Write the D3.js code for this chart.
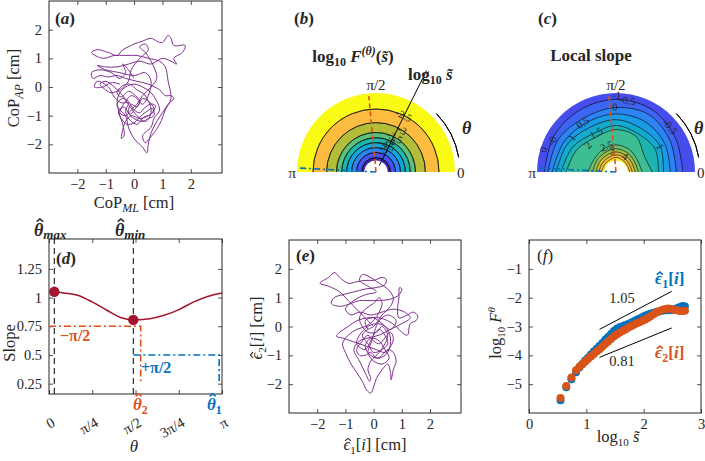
<!DOCTYPE html>
<html><head><meta charset="utf-8">
<script src="https://cdn.jsdelivr.net/npm/d3@7"></script>
<style>
body{margin:0;background:#fff}
svg{display:block}
text{font-family:'Liberation Serif','DejaVu Serif',serif;fill:#262626}
</style></head>
<body><svg id="c" width="705" height="461"></svg>
<script>
// ---------------- DATA ----------------
// (a) CoP trajectory [ML, AP] in cm
const trajA = [[0.0,0.3],[-0.2,0.6],[-0.4,0.8],[-0.3,0.5],[-0.5,0.3],[-0.8,0.5],[-1.2,0.6],[-1.5,0.5],[-1.45,0.3],[-1.2,0.4],[-0.9,0.35],[-0.6,0.4],[-0.3,0.3],[0.1,0.2],[0.5,0.1],[0.9,-0.1],[1.1,-0.3],[1.3,-0.3],[1.4,-0.4],[1.2,-0.6],[1.0,-0.9],[0.8,-1.2],[0.6,-1.6],[0.5,-2.0],[0.45,-2.3],[0.3,-2.1],[0.0,-1.8],[-0.2,-1.4],[-0.3,-1.0],[-0.5,-0.8],[-0.6,-0.6],[-0.4,-0.4],[-0.2,-0.5],[0.0,-0.8],[0.2,-0.9],[0.4,-0.7],[0.6,-0.6],[0.7,-0.8],[0.5,-1.0],[0.2,-1.1],[-0.1,-1.0],[-0.3,-1.2],[-0.4,-1.5],[-0.45,-1.8],[-0.35,-1.7],[-0.4,-1.3],[-0.5,-1.0],[-0.6,-0.5],[-0.5,-0.2],[-0.3,0.0],[0.0,0.1],[0.3,0.0],[0.6,-0.2],[0.8,-0.5],[0.9,-0.8],[0.7,-1.1],[0.6,-1.4],[0.3,-1.7],[0.4,-1.95],[0.5,-1.85],[0.9,-1.3],[1.1,-0.8],[1.3,-0.4],[1.2,0.2],[1.1,0.7],[0.9,0.9],[0.5,1.0],[0.1,1.1],[-0.3,1.1],[-0.7,1.1],[-1.1,1.0],[-1.5,1.2],[-1.3,1.3],[-0.9,1.2],[-0.6,1.1],[-0.4,1.3],[-0.2,1.4],[0.0,1.5],[0.3,1.6],[0.6,1.7],[0.8,1.6],[1.0,1.55],[1.2,1.8],[1.3,1.7],[1.4,1.45],[1.8,1.45],[1.7,1.2],[1.4,1.0],[1.5,0.8],[1.3,0.9],[1.0,1.0],[0.6,0.8],[0.2,0.9],[-0.2,0.8],[-0.6,0.7],[-1.0,0.7],[-1.3,0.75],[-1.0,0.6],[-0.5,0.5],[0.0,0.4],[0.4,0.5],[0.6,0.2],[0.5,-0.3],[0.3,-0.6],[0.1,-0.4],[-0.1,-0.3],[-0.3,-0.5],[-0.5,-0.9],[-0.3,-1.0],[-0.1,-0.8],[0.1,-0.6],[0.3,-0.3],[0.6,0.0],[0.8,0.3],[0.7,0.7],[0.4,1.2],[0.2,1.4],[0.4,1.5],[0.5,1.3],[0.2,1.0],[-0.1,0.6],[-0.2,0.2],[-0.5,-0.1],[-0.8,-0.2],[-1.0,-0.1],[-1.2,0.1],[-1.0,0.2],[-0.7,0.0],[-0.4,-0.3],[-0.2,-0.6],[0.1,-1.0],[0.4,-1.2],[0.6,-0.9],[0.5,-0.5],[0.3,-0.4],[0.1,-0.7],[-0.1,-0.6],[-0.2,-0.9],[0.0,-1.1],[0.3,-1.2],[0.5,-1.1],[0.7,-1.0],[0.65,-0.75],[0.45,-0.85],[0.25,-1.0],[0.0,-1.25],[-0.25,-1.3],[-0.45,-1.1],[-0.55,-0.85],[-0.35,-0.7],[-0.15,-0.95],[0.05,-0.75],[0.2,-0.5],[0.05,-0.3],[-0.2,-0.15],[-0.45,-0.35],[-0.6,-0.2],[-0.4,0.05],[-0.15,0.1],[0.1,-0.1],[0.35,-0.25],[0.55,-0.55],[0.75,-0.65],[0.6,-0.95],[0.35,-1.05],[0.1,-1.3],[-0.15,-1.15],[-0.3,-0.85],[-0.2,-0.55],[-0.45,-0.55],[-0.7,-0.35],[-0.9,0.0],[-1.3,0.2],[-1.4,0.0],[-1.1,0.0],[-0.8,0.15],[-0.5,0.1]];
// (e) projected trajectory [eps1, eps2] in cm
const trajE = [[0.0,0.0],[-0.3,0.3],[-0.6,0.6],[-0.9,0.9],[-1.2,1.2],[-1.6,1.4],[-1.9,1.5],[-1.6,1.7],[-1.38,1.87],[-1.2,1.7],[-0.9,1.5],[-0.6,1.55],[-0.3,1.6],[0.0,1.6],[0.3,1.7],[0.45,1.64],[0.4,1.45],[0.1,1.35],[-0.3,1.3],[-0.7,1.2],[-1.1,1.1],[-1.4,1.0],[-1.5,0.8],[-1.2,0.7],[-0.8,0.8],[-0.5,0.9],[-0.2,0.9],[0.2,0.9],[0.6,0.95],[0.9,1.1],[1.0,1.3],[0.92,1.35],[0.9,1.0],[0.85,0.6],[0.9,0.3],[1.2,0.4],[1.4,0.5],[1.57,0.36],[1.5,0.2],[1.3,0.1],[1.2,-0.3],[1.0,-0.2],[0.8,0.0],[0.5,0.2],[0.2,0.3],[-0.2,0.3],[-0.6,0.2],[-0.9,0.0],[-1.2,-0.2],[-1.32,-0.34],[-1.1,-0.4],[-0.8,-0.5],[-0.5,-0.6],[-0.2,-0.7],[0.1,-0.8],[0.4,-0.9],[0.6,-0.7],[0.7,-0.4],[0.6,-0.2],[0.4,-0.4],[0.2,-0.6],[0.0,-0.5],[-0.2,-0.3],[-0.4,-0.5],[-0.6,-0.8],[-0.5,-1.0],[-0.3,-1.0],[-0.1,-0.9],[0.1,-1.1],[0.3,-1.0],[0.5,-0.8],[0.7,-0.9],[0.8,-1.2],[0.7,-1.5],[0.62,-1.85],[0.6,-1.6],[0.5,-1.3],[0.3,-1.5],[0.1,-1.8],[0.0,-2.1],[-0.1,-2.31],[-0.25,-2.2],[-0.4,-1.9],[-0.6,-1.6],[-0.8,-1.3],[-1.0,-0.9],[-1.1,-0.6],[-0.9,-0.3],[-0.6,-0.1],[-0.3,0.0],[0.0,0.2],[0.2,0.5],[0.3,0.8],[0.2,1.0],[0.0,0.8],[-0.3,0.6],[-0.5,0.3],[-0.4,0.0],[-0.2,-0.2],[0.1,-0.2],[0.3,0.0],[0.5,-0.3],[0.4,-0.6],[0.2,-0.9],[-0.1,-1.2],[-0.2,-1.5],[-0.1,-1.8],[-0.14,-1.9],[-0.3,-1.6],[-0.5,-1.2],[-0.7,-0.8],[-0.5,-0.5],[-0.2,-0.4],[0.2,-0.3],[0.6,-0.1],[1.0,0.1],[1.3,0.3],[1.1,0.5],[0.7,0.6],[0.3,0.5],[-0.1,0.4],[-0.5,0.5],[-0.8,0.4],[-1.0,0.6],[-0.7,0.9],[-0.3,1.1],[0.1,1.2],[-0.2,1.4],[-0.5,1.6],[-0.4,1.8],[-0.2,1.75],[0.2,1.5],[0.5,1.3],[0.7,1.0],[0.6,0.7],[0.3,0.4],[0.0,0.0],[-0.2,-0.1],[-0.4,-0.3],[-0.2,-0.6],[0.0,-0.9],[0.3,-0.8],[0.5,-0.6],[0.4,-0.3],[0.2,-0.1],[0.0,-0.3],[-0.3,-0.8],[-0.6,-0.6],[-0.5,-0.3],[-0.2,0.0],[0.1,0.1],[0.4,0.0],[0.6,-0.4],[0.5,-0.9],[0.2,-1.1],[-0.1,-1.0],[-0.3,-0.7],[-0.1,-0.4],[0.2,-0.5],[0.4,-0.8],[0.55,-1.1],[0.3,-1.3],[0.0,-1.2],[-0.2,-0.9],[-0.1,-0.6],[0.2,0.2],[0.5,0.4],[0.8,0.2],[0.6,-0.1],[0.3,0.1],[0.0,0.3],[-0.3,0.2],[-0.2,-0.1]];
// (d) slope vs theta
const slopeTheta = [0, 0.26, 0.52, 0.79, 1.05, 1.31, 1.57, 1.83, 2.09, 2.36, 2.62, 2.88, 3.14];
const slopeValue = [1.05, 1.04, 1.02, 0.96, 0.89, 0.825, 0.805, 0.815, 0.845, 0.895, 0.96, 1.01, 1.04];
const thetaMax = 0.096, slopeMax = 1.05;
const thetaMin = 1.531, slopeMin = 0.805;
const theta2 = 1.665, theta2Level = 0.75, theta2Bottom = 0.27;
const theta1 = 3.09, theta1Level = 0.5, theta1Bottom = 0.255;
const dTickValues = [0, Math.PI/4, Math.PI/2, 3*Math.PI/4, Math.PI];
const dTickLabels = ['0', 'π/4', 'π/2', '3π/4', 'π'];
const dYTicks = [0.25, 0.5, 0.75, 1, 1.25];
const dYLabels = ['0.25', '0.5', '0.75', '1', '1.25'];
// (f) fluctuation functions
const fLogS = [0.55,0.65,0.74,0.82,0.88,0.93,0.98,1.03,1.08,1.13,1.18,1.23,1.28,1.33,1.38,1.43,1.48,1.53,1.58,1.63,1.68,1.73,1.78,1.83,1.88,1.93,1.98,2.03,2.08,2.13,2.18,2.23,2.28,2.33,2.38,2.43,2.48,2.53,2.58,2.63,2.68,2.72];
const fEps1 = [-5.56,-5.11,-4.83,-4.59,-4.42,-4.30,-4.18,-4.08,-3.97,-3.87,-3.77,-3.68,-3.57,-3.46,-3.36,-3.26,-3.16,-3.08,-3.03,-2.99,-2.95,-2.91,-2.87,-2.82,-2.77,-2.72,-2.67,-2.62,-2.58,-2.55,-2.52,-2.49,-2.47,-2.45,-2.44,-2.44,-2.43,-2.41,-2.37,-2.32,-2.29,-2.31];
const fEps2 = [-5.48,-5.06,-4.77,-4.52,-4.40,-4.31,-4.22,-4.13,-4.04,-3.95,-3.87,-3.79,-3.70,-3.61,-3.52,-3.43,-3.35,-3.28,-3.22,-3.16,-3.10,-3.04,-2.99,-2.94,-2.89,-2.85,-2.80,-2.76,-2.70,-2.64,-2.57,-2.51,-2.46,-2.42,-2.39,-2.38,-2.39,-2.42,-2.44,-2.46,-2.46,-2.45];
const fitX = [1.23, 2.49];
const fit1Y = [-3.10, -1.78];
const fit2Y = [-4.07, -3.05];
const fitLabels = ['1.05', '0.81'];
// (b) log10 F contour levels (circular) : radius in log10 s
const bLevels = [-2.5, -3, -3.5, -4, -4.5, -5, -5.5, -6];
const bRadii  = [2.17, 1.70, 1.36, 1.18, 1.01, 0.84, 0.67, 0.50];
const bLabelText = ['-2.5', '-3', '-3.5', '-4', '-4.5', '-5'];
const bLabelAng  = [64, 58, 62, 64, 68, 70];
const sMax = 2.72, sMin = 0.40;
// (c) local slope contours: radius (log10 s) at angles
const cLevels = [-0.5, 0, 0.5, 1, 1.5, 2, 2.5, 3, 3.5, 4, 4.5];
const cAngles = [0, 30, 60, 90, 120, 150, 180];
const cRadii = [
  [2.30,2.36,2.48,2.50,2.47,2.47,2.47],
  [2.08,2.15,2.28,2.22,2.16,2.28,2.35],
  [1.87,1.94,2.00,2.00,1.98,2.07,2.20],
  [1.63,1.76,1.73,1.80,1.78,1.93,2.06],
  [1.46,1.56,1.52,1.60,1.53,1.72,1.90],
  [1.25,1.12,1.40,1.46,1.38,1.55,1.72],
  [0.90,0.84,0.90,0.93,0.90,0.87,0.97],
  [0.77,0.73,0.77,0.80,0.77,0.77,0.80],
  [0.66,0.63,0.66,0.69,0.66,0.66,0.69],
  [0.56,0.53,0.56,0.59,0.56,0.56,0.59],
  [0.47,0.45,0.47,0.50,0.47,0.47,0.50]
];
const cOuterValue = -0.9;
const cLabelText = ['-1','-0.5','0','0.5','1','1.5','2','2.5','3','4','0','-0','-0.5','1'];
const cLabelAng  = [89.5, 81, 91, 124, 142, 117, 136, 110, 100, 60, 163, 154, 40, 30];
const cLabelR    = [2.66, 2.50, 2.25, 2.05, 1.92, 1.51, 1.34, 0.95, 0.75, 0.62, 2.62, 2.45, 2.43, 1.75];

// ---------------- STYLE ----------------
const PURPLE='#7E2F8E', BLUE='#0072BD', ORANGE='#D95319', RED='#A2142F', AX='#262626';
const parula = d3.piecewise(d3.interpolateRgb, ['#3E26A8','#4752F4','#2B84F2','#10A6DC','#1FB5AA','#5CC27A','#B4BD38','#FCBC40','#F9FB14']);
const svg = d3.select('#c');

function axes(x, y, xt, yt, xf, yf) {
  const g = svg.append('g');
  const [yb, yTop] = y.range(); const [xl, xr] = x.range();
  g.append('g').attr('class','xb').attr('transform',`translate(0,${yb})`).call(d3.axisBottom(x).tickValues(xt).tickFormat(xf).tickSize(-4).tickPadding(6));
  g.append('g').attr('transform',`translate(0,${yTop})`).call(d3.axisTop(x).tickValues(xt).tickFormat('').tickSize(-4));
  g.append('g').attr('transform',`translate(${xl},0)`).call(d3.axisLeft(y).tickValues(yt).tickFormat(yf).tickSize(-4).tickPadding(7));
  g.append('g').attr('transform',`translate(${xr},0)`).call(d3.axisRight(y).tickValues(yt).tickFormat('').tickSize(-4));
  g.selectAll('.domain').remove();
  g.selectAll('.tick line').attr('stroke',AX).attr('stroke-width',0.8);
  g.selectAll('.tick text').attr('font-family',"'Liberation Serif','DejaVu Serif',serif").attr('font-size',14.5).attr('fill',AX);
  g.append('rect').attr('x',xl).attr('y',yTop).attr('width',xr-xl).attr('height',yb-yTop)
    .attr('fill','none').attr('stroke',AX).attr('stroke-width',1);
  return g;
}
// text with tspans; parts: {t, i (italic), dy, fs, hat:'high'|'low'}
function label(x, y, parts, opt={}) {
  const size = opt.size||16, fill = opt.fill||AX;
  const g = svg.append('g');
  if (opt.rotate) g.attr('transform',`rotate(${opt.rotate},${x},${y})`);
  const t = g.append('text').attr('x',x).attr('y',y).attr('font-size',size)
    .attr('text-anchor',opt.anchor||'start').style('fill',fill);
  if (opt.weight) t.attr('font-weight',opt.weight);
  let idx = 0, dyAcc = 0; const hats = [];
  parts.forEach(p => {
    const s = t.append('tspan').text(p.t);
    if (p.i) s.attr('font-style','italic');
    if (p.dy) { s.attr('dy',p.dy); dyAcc += p.dy; }
    if (p.fs) s.attr('font-size',p.fs);
    if (p.hat) hats.push({idx, base:y+dyAcc, fs:p.fs||size, kind:p.hat});
    idx += p.t.length;
  });
  hats.forEach(h => {
    const e = t.node().getExtentOfChar(h.idx);
    const cx = e.x + e.width/2 + 0.07*h.fs;
    const top = h.kind==='low' ? 0.70 : 0.95, bot = h.kind==='low' ? 0.55 : 0.80;
    g.append('path').attr('d',`M${cx-0.18*h.fs},${h.base-bot*h.fs}L${cx},${h.base-top*h.fs}L${cx+0.18*h.fs},${h.base-bot*h.fs}`)
      .attr('fill','none').attr('stroke',fill).attr('stroke-width',opt.weight?1.5:1.1);
  });
  return t;
}
const line = d3.line().curve(d3.curveCatmullRom.alpha(0.5));

// ---------------- (a) ----------------
{
  const x = d3.scaleLinear().domain([-3,3.1]).range([49,222]);
  const y = d3.scaleLinear().domain([-3,3]).range([173,1]);
  axes(x, y, [-2,-1,0,1,2], [-2,-1,0,1,2], d3.format(''), d3.format(''));
  svg.append('path').attr('d', line(trajA.map(d=>[x(d[0]),y(d[1])])))
    .attr('fill','none').attr('stroke',PURPLE).attr('stroke-width',1);
  label(55,24,[{t:'('},{t:'a',i:1},{t:')'}],{size:17,weight:'bold'});
  label(134,208,[{t:'CoP'},{t:'ML',i:1,dy:4,fs:12},{t:' [cm]',dy:-4}],{size:16.5,anchor:'middle'});
  label(19,88,[{t:'CoP'},{t:'AP',i:1,dy:4,fs:12},{t:' [cm]',dy:-4}],{size:16.5,anchor:'middle',rotate:-90});
}

// ---------------- (e) ----------------
{
  const x = d3.scaleLinear().domain([-3,3.1]).range([289,461]);
  const y = d3.scaleLinear().domain([-3,3]).range([413,240]);
  axes(x, y, [-2,-1,0,1,2], [-2,-1,0,1,2], d3.format(''), d3.format(''));
  svg.append('path').attr('d', line(trajE.map(d=>[x(d[0]),y(d[1])])))
    .attr('fill','none').attr('stroke',PURPLE).attr('stroke-width',1);
  label(296,261,[{t:'('},{t:'e',i:1},{t:')'}],{size:17,weight:'bold'});
  label(375,450,[{t:'ϵ',i:1,hat:'low'},{t:'1',dy:4,fs:11},{t:'[',dy:-4},{t:'i',i:1},{t:'] [cm]'}],{size:16.5,anchor:'middle'});
  label(262,328,[{t:'ϵ',i:1,hat:'low'},{t:'2',dy:4,fs:11},{t:'[',dy:-4},{t:'i',i:1},{t:'] [cm]'}],{size:16.5,anchor:'middle',rotate:-90});
}

// ---------------- (f) ----------------
{
  const x = d3.scaleLinear().domain([0,3]).range([529,701]);
  const y = d3.scaleLinear().domain([-6,0]).range([413,240]);
  axes(x, y, [0,1,2,3], [-5,-4,-3,-2,-1], d3.format(''), d3.format(''));
  const g = svg.append('g');
  g.selectAll('.b').data(fLogS).join('circle').attr('cx',d=>x(d)).attr('cy',(d,i)=>y(fEps1[i])).attr('r',4).attr('fill',BLUE);
  g.selectAll('.o').data(fLogS).join('circle').attr('cx',d=>x(d)).attr('cy',(d,i)=>y(fEps2[i])).attr('r',4).attr('fill',ORANGE);
  [fit1Y, fit2Y].forEach(fy => svg.append('line').attr('x1',x(fitX[0])).attr('x2',x(fitX[1])).attr('y1',y(fy[0])).attr('y2',y(fy[1])).attr('stroke','#000').attr('stroke-width',1));
  label(622,303,[{t:fitLabels[0]}],{size:14.5,anchor:'middle'});
  label(622,366,[{t:fitLabels[1]}],{size:14.5,anchor:'middle'});
  label(655,284,[{t:'ϵ',i:1,hat:'low'},{t:'1',dy:4,fs:12},{t:'[',dy:-4},{t:'i',i:1},{t:']'}],{size:17,weight:'bold',fill:BLUE});
  label(655,358,[{t:'ϵ',i:1,hat:'low'},{t:'2',dy:4,fs:12},{t:'[',dy:-4},{t:'i',i:1},{t:']'}],{size:17,weight:'bold',fill:ORANGE});
  label(537,261,[{t:'('},{t:'f',i:1},{t:')'}],{size:17});
  label(618,442,[{t:'log'},{t:'10',dy:4,fs:11},{t:' s̃',dy:-4,i:1}],{size:16.5,anchor:'middle'});
  label(501,333,[{t:'log'},{t:'10',dy:4,fs:11},{t:' F',dy:-4,i:1},{t:'θ',i:1,dy:-6,fs:11}],{size:16.5,anchor:'middle',rotate:-90});
}

// ---------------- (d) ----------------
{
  const x = d3.scaleLinear().domain([0,Math.PI]).range([49,222]);
  const y = d3.scaleLinear().domain([0.16,1.51]).range([394,239]);
  const g = axes(x, y, dTickValues, dYTicks, (d,i)=>dTickLabels[i], (d,i)=>dYLabels[i]);
  g.select('.xb').selectAll('.tick text').attr('x',4).attr('y',27).attr('dy','0.35em')
    .attr('text-anchor','end').attr('transform','rotate(-30,4,27)');
  [thetaMax, thetaMin].forEach(t => svg.append('line').attr('x1',x(t)).attr('x2',x(t)).attr('y1',y.range()[0]).attr('y2',y.range()[1])
    .attr('stroke','#000').attr('stroke-width',1).attr('stroke-dasharray','6,4'));
  svg.append('path').attr('d',d3.line()([[x(0),y(theta2Level)],[x(theta2),y(theta2Level)],[x(theta2),y(theta2Bottom)]]))
    .attr('fill','none').attr('stroke',ORANGE).attr('stroke-width',1.6).attr('stroke-dasharray','7,3,2,3');
  svg.append('path').attr('d',d3.line()([[x(thetaMin),y(theta1Level)],[x(theta1),y(theta1Level)],[x(theta1),y(theta1Bottom)]]))
    .attr('fill','none').attr('stroke',BLUE).attr('stroke-width',1.6).attr('stroke-dasharray','7,3,2,3');
  svg.append('path').attr('d', d3.line().curve(d3.curveMonotoneX)(slopeTheta.map((t,i)=>[x(t),y(slopeValue[i])])))
    .attr('fill','none').attr('stroke',RED).attr('stroke-width',1.6);
  svg.selectAll('.dot').data([[thetaMax,slopeMax],[thetaMin,slopeMin]]).join('circle')
    .attr('cx',d=>x(d[0])).attr('cy',d=>y(d[1])).attr('r',5.2).attr('fill',RED);
  label(56,264,[{t:'('},{t:'d',i:1},{t:')'}],{size:17,weight:'bold'});
  label(60,341,[{t:'−π/2'}],{size:16,weight:'bold',fill:ORANGE});
  label(141,373,[{t:'+π/2'}],{size:16,weight:'bold',fill:BLUE});
  label(133,410,[{t:'θ',i:1,hat:'high'},{t:'2',dy:4,fs:12}],{size:17,weight:'bold',fill:ORANGE});
  label(207,410,[{t:'θ',i:1,hat:'high'},{t:'1',dy:4,fs:12}],{size:17,weight:'bold',fill:BLUE});
  label(34,236,[{t:'θ',i:1,hat:'high'},{t:'max',i:1,dy:3,fs:13}],{size:18,weight:'bold'});
  label(115,236,[{t:'θ',i:1,hat:'high'},{t:'min',i:1,dy:3,fs:13}],{size:18,weight:'bold'});
  label(15,343,[{t:'Slope'}],{size:16.5,anchor:'middle',rotate:-90});
  label(134,452,[{t:'θ',i:1}],{size:17,anchor:'middle'});
}

// ---------------- polar helpers ----------------
const rS = d3.scaleLinear().domain([0, sMax]).range([0, 79]);
function P(cx, cy, thetaRad, r) { return [cx + rS(r)*Math.cos(thetaRad), cy - rS(r)*Math.sin(thetaRad)]; }
const deg = Math.PI/180;
function polarDecor(cx, cy, thetaX) {
  const arc = d3.arc().innerRadius(84).outerRadius(84).startAngle(Math.PI/2-10*deg).endAngle(Math.PI/2-44*deg);
  svg.append('path').attr('transform',`translate(${cx},${cy})`).attr('d',arc()).attr('fill','none').attr('stroke','#000').attr('stroke-width',1);
  svg.append('text').attr('x',thetaX).attr('y',cy-38).attr('font-size',18).attr('font-weight','bold').attr('font-style','italic').text('θ');
  svg.append('text').attr('x',cx+81).attr('y',cy+6).attr('font-size',15).text('0');
  svg.append('text').attr('x',cx-80).attr('y',cy+6).attr('font-size',15).attr('text-anchor','end').text('π');
  svg.append('text').attr('x',cx).attr('y',cy-82).attr('font-size',15).attr('text-anchor','middle').text('π/2');
  const [ox,oy] = P(cx,cy,theta2,2.62);
  svg.append('line').attr('x1',cx).attr('y1',cy).attr('x2',ox).attr('y2',oy).attr('stroke',ORANGE).attr('stroke-width',1.6).attr('stroke-dasharray','5,3');
  const [bx,by] = P(cx,cy,theta1,sMax);
  svg.append('line').attr('x1',cx).attr('y1',cy).attr('x2',bx).attr('y2',by).attr('stroke',BLUE).attr('stroke-width',1.6).attr('stroke-dasharray','6,3,2,3');
}

// ---------------- (b) ----------------
{
  const cx = 376, cy = 172;
  const g = svg.append('g').attr('transform',`translate(${cx},${cy})`);
  const edges = [sMax, ...bRadii, sMin];
  const col = d3.scaleLinear().domain([-6.5,-2.5]).range([0,1]);
  const lower = [...bLevels, -6.5];
  for (let i=0;i<edges.length-1;i++) {
    g.append('path').attr('d', d3.arc().innerRadius(rS(edges[i+1])).outerRadius(rS(edges[i])).startAngle(-Math.PI/2).endAngle(Math.PI/2)())
      .attr('fill', parula(col(lower[i])));
  }
  bRadii.forEach(r => g.append('path').attr('d', d3.arc().innerRadius(rS(r)).outerRadius(rS(r)).startAngle(-Math.PI/2).endAngle(Math.PI/2)())
    .attr('fill','none').attr('stroke','#000').attr('stroke-width',0.6));
  bLabelText.forEach((t,i) => {
    const [px,py] = P(0,0,bLabelAng[i]*deg,bRadii[i]);
    g.append('text').attr('x',px).attr('y',py).attr('dy','0.35em').attr('font-size',10.5).attr('text-anchor','middle')
      .attr('transform',`rotate(${90-bLabelAng[i]},${px},${py})`).text(t);
  });
  polarDecor(cx, cy, cx+86);
  const [l0x,l0y] = P(cx,cy,63*deg,0.25), [l1x,l1y] = P(cx,cy,63.5*deg,3.9);
  svg.append('line').attr('x1',l0x).attr('y1',l0y).attr('x2',l1x).attr('y2',l1y).attr('stroke','#000').attr('stroke-width',1);
  label(408,80,[{t:'log'},{t:'10',dy:4,fs:12},{t:' s̃',dy:-4,i:1}],{size:17,weight:'bold'});
  label(353,62,[{t:'log'},{t:'10',dy:4,fs:12},{t:' F',dy:-4,i:1},{t:'(θ)',i:1,dy:-7,fs:12},{t:'(',dy:7},{t:'s̃',i:1},{t:')'}],{size:17,weight:'bold',anchor:'middle'});
  label(294,24,[{t:'('},{t:'b',i:1},{t:')'}],{size:17,weight:'bold'});
}

// ---------------- (c) ----------------
{
  const cx = 616, cy = 172;
  const g = svg.append('g').attr('transform',`translate(${cx},${cy})`);
  const col = d3.scaleLinear().domain([-1.6,4.8]).range([0,1]);
  const lower = [cOuterValue, ...cLevels];
  g.append('path').attr('d', d3.arc().innerRadius(0).outerRadius(rS(sMax)).startAngle(-Math.PI/2).endAngle(Math.PI/2)())
    .attr('fill', parula(col(lower[0])));
  const curve = d3.line().curve(d3.curveCatmullRom.alpha(0.5));
  cRadii.forEach((rs,k) => {
    const pts = cAngles.map((a,j) => P(0,0,a*deg,rs[j]));
    g.append('path').attr('d','M0,0' + curve(pts).replace(/^M/,'L') + 'Z').attr('fill', parula(col(lower[k+1])));
  });
  cRadii.forEach(rs => {
    const pts = cAngles.map((a,j) => P(0,0,a*deg,rs[j]));
    g.append('path').attr('d', curve(pts)).attr('fill','none').attr('stroke','#000').attr('stroke-width',0.6);
  });
  g.append('path').attr('d', d3.arc().innerRadius(0).outerRadius(rS(sMin)).startAngle(-Math.PI/2).endAngle(Math.PI/2)()).attr('fill','#fff');
  g.append('rect').attr('x',-90).attr('y',0.5).attr('width',180).attr('height',10).attr('fill','#fff');
  cLabelText.forEach((t,i) => {
    const [px,py] = P(0,0,cLabelAng[i]*deg,cLabelR[i]);
    g.append('text').attr('x',px).attr('y',py).attr('dy','0.35em').attr('font-size',10.5).attr('text-anchor','middle')
      .attr('transform',`rotate(${90-cLabelAng[i]},${px},${py})`).text(t);
  });
  polarDecor(cx, cy, 694);
  label(591,61,[{t:'Local slope'}],{size:17,weight:'bold',anchor:'middle'});
  label(538,24,[{t:'('},{t:'c',i:1},{t:')'}],{size:17,weight:'bold'});
}
</script></body></html>
